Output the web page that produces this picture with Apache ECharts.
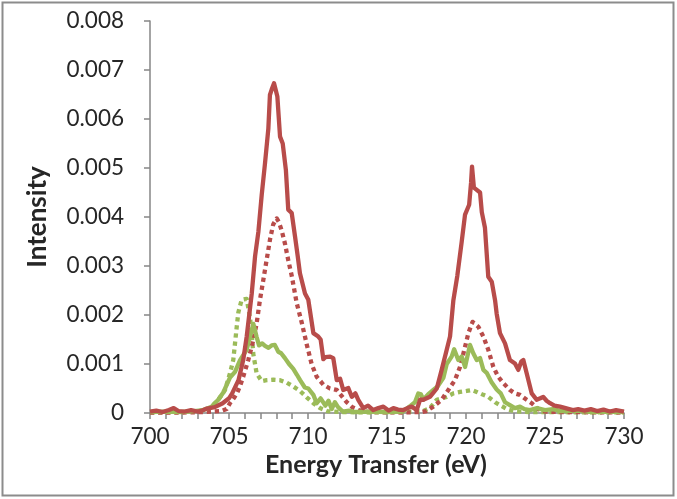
<!DOCTYPE html>
<html>
<head>
<meta charset="utf-8">
<script src="https://cdn.jsdelivr.net/npm/echarts@6/dist/echarts.min.js"></script>
<style>
html,body{margin:0;padding:0;background:#fff;}
#chart{width:677px;height:499px;}
</style>
</head>
<body>
<div id="chart"></div>
<script>
// Energy transfer (eV) and intensity samples for each curve
const redSolidE = [700.0,700.4,700.8,701.2,701.5,701.8,702.2,702.6,703.0,703.3,703.6,704.1,704.6,705.0,705.2,705.6,705.9,706.12,706.44,706.65,706.86,707.07,707.28,707.49,707.59,707.7,707.85,707.95,708.06,708.23,708.4,708.6,708.75,708.97,709.18,709.35,709.49,709.81,710.02,710.34,710.65,710.8,710.97,711.1,711.4,711.6,711.82,712.03,712.23,712.55,712.77,713.0,713.18,713.5,713.8,714.13,714.45,714.77,715.1,715.4,715.7,716.03,716.3,716.56,716.88,717.09,717.3,717.51,717.72,717.9,718.15,718.46,718.78,718.99,719.2,719.45,719.73,719.94,720.2,720.32,720.38,720.5,720.6,720.89,721.0,721.2,721.41,721.63,721.84,721.94,722.15,722.47,722.78,723.1,723.31,723.5,723.63,723.84,724.16,724.47,724.7,724.89,725.1,725.32,725.6,725.95,726.3,726.77,727.1,727.5,727.9,728.3,728.7,729.1,729.5,730.0];
const redSolidI = [0.00003,0.00005,0.00002,0.00006,0.0001,0.00004,0.00003,0.00006,0.00003,0.00005,0.00009,0.00012,0.0002,0.0003,0.0004,0.00067,0.00108,0.00156,0.00244,0.0032,0.0037,0.00445,0.0051,0.0058,0.00649,0.0066,0.00673,0.0066,0.00646,0.00564,0.0055,0.00496,0.00415,0.00408,0.0036,0.0032,0.00285,0.00244,0.00231,0.00163,0.00156,0.0015,0.0011,0.00114,0.00115,0.00112,0.00067,0.0007,0.00047,0.00051,0.00033,0.0004,0.00027,0.0001,0.00015,0.00006,0.0001,0.00013,0.00005,0.0001,0.00007,0.00006,0.0001,0.00013,0.00006,0.00027,0.00027,0.0003,0.00033,0.0004,0.0005,0.00088,0.00129,0.00156,0.0023,0.0028,0.0035,0.00405,0.00425,0.0047,0.00503,0.0046,0.00458,0.0045,0.0041,0.00378,0.00278,0.00268,0.0023,0.00203,0.00163,0.00142,0.00108,0.00101,0.00088,0.00105,0.00108,0.00081,0.0004,0.00027,0.0003,0.00033,0.00025,0.0002,0.00015,0.00013,0.0001,0.00006,0.00008,0.00005,0.00008,0.00004,0.00007,0.00003,0.00006,0.00003];

const redDotE = [700,702,703.5,704.5,704.85,705.06,705.3,705.5,705.7,705.9,706.22,706.54,706.75,706.96,707.17,707.38,707.6,707.8,708.02,708.15,708.33,708.54,708.75,708.97,709.28,709.6,709.92,710.23,710.55,710.97,711.39,711.82,712.1,712.45,712.8,713.2,713.6,714,716,717.2,717.5,717.93,718.46,718.88,719.3,719.62,719.94,720.15,720.42,720.78,721.1,721.41,721.73,722.04,722.36,722.78,723.1,723.42,723.84,724.16,724.58,725,726,730];
const redDotI = [0.00001,0.00001,0.00002,0.00004,0.00008,0.0002,0.0003,0.0004,0.00055,0.00074,0.00108,0.00149,0.00183,0.00231,0.00271,0.00312,0.00355,0.00385,0.00397,0.0039,0.00373,0.00346,0.00312,0.0028,0.00225,0.00185,0.0014,0.001,0.00074,0.00058,0.0005,0.00047,0.00036,0.00022,0.00012,0.00006,0.00003,0.00002,0.00001,0.00002,0.00004,0.00013,0.00027,0.00047,0.00067,0.00094,0.00135,0.00163,0.00186,0.00176,0.00156,0.00129,0.00094,0.00074,0.00061,0.00047,0.0004,0.00037,0.00027,0.0002,0.00008,0.00003,0.00002,0.00001];

const greenSolidE = [700,701,702,702.8,703.37,703.9,704.32,704.64,705.06,705.38,705.7,706.12,706.33,706.54,706.75,706.9,707.1,707.28,707.5,707.7,707.9,708.12,708.3,708.54,708.8,709.07,709.3,709.5,709.8,710.02,710.34,710.55,710.8,711.1,711.3,711.5,711.7,711.9,712.2,712.6,713,714,715,716,716.5,716.77,716.98,717.15,717.3,717.6,717.93,718.2,718.57,718.78,719.09,719.25,719.51,719.73,719.94,720.25,720.46,720.68,720.89,721.1,721.31,721.63,721.94,722.2,722.47,722.78,723.1,723.42,723.7,724.05,724.5,725,725.5,726,727,728,729,730];
const greenSolidI = [0.00002,0.00003,0.00002,0.00004,0.00006,0.00013,0.00027,0.00042,0.00072,0.00084,0.00108,0.00129,0.00156,0.00182,0.00155,0.00138,0.00142,0.00137,0.00133,0.00138,0.00139,0.00125,0.00122,0.00112,0.001,0.0009,0.00078,0.00067,0.00052,0.0005,0.00037,0.0002,0.0003,0.00015,0.00025,0.00008,0.00022,0.00012,0.00003,0.00005,0.00002,0.00003,0.00002,0.00003,0.00015,0.00022,0.0004,0.00038,0.00027,0.00038,0.00047,0.00054,0.00072,0.001,0.00115,0.0013,0.00108,0.00115,0.00094,0.00139,0.00122,0.00108,0.00112,0.00088,0.00082,0.00062,0.00048,0.0004,0.00022,0.00016,0.0001,0.00013,0.00008,0.00006,0.0001,0.00006,0.00008,0.00004,0.00005,0.00002,0.00003,0.00002];

const greenDotE = [700,702,703,703.8,704.32,704.75,705.06,705.27,705.38,705.49,705.59,705.8,706.12,706.33,706.44,706.54,706.75,707.07,707.38,707.8,708.23,708.65,709.07,709.49,709.92,710.34,710.76,711.2,712,714,716,717.3,717.72,718.15,718.78,719.2,719.62,720.04,720.36,720.68,721.1,721.41,721.84,722.15,722.6,723,724,730];
const greenDotI = [0.00001,0.00002,0.00003,0.0001,0.00027,0.00047,0.00081,0.00108,0.00142,0.00176,0.00205,0.00231,0.00233,0.00195,0.0016,0.0012,0.00081,0.00065,0.00067,0.00068,0.00067,0.00062,0.00054,0.00045,0.00032,0.0002,0.0001,0.00004,0.00002,0.00001,0.00002,0.00004,0.0001,0.00027,0.00033,0.0004,0.00043,0.00045,0.00047,0.00043,0.00037,0.00033,0.00022,0.00016,0.00008,0.00004,0.00002,0.00001];

// Axis ticks
const xTicks = [700,705,710,715,720,725,730];
const yTicks = [0,0.001,0.002,0.003,0.004,0.005,0.006,0.007,0.008];
const xTitle = 'Energy Transfer (eV)';
const yTitle = 'Intensity';

const RED = '#B84C4A';
const GREEN = '#9BBB59';
const AXIS = '#868686';
const TEXT = '#262626';
const FONT = 'Lato';

function pairs(E, I) { return E.map((e, i) => [e, I[i]]); }

function lineSeries(name, E, I, color, dotted) {
  return {
    name: name, type: 'line', data: pairs(E, I),
    showSymbol: false, symbol: 'none', smooth: false,
    lineStyle: { color: color, width: 4.3, type: dotted ? [4.3, 3.8] : 'solid', cap: 'butt', join: 'round' },
    emphasis: { disabled: true },
    animation: false
  };
}

const chart = echarts.init(document.getElementById('chart'), null, { renderer: 'canvas' });
chart.setOption({
  backgroundColor: '#ffffff',
  animation: false,
  grid: { left: 150, right: 53, top: 21, bottom: 86, containLabel: false },
  xAxis: {
    type: 'value',
    min: xTicks[0], max: xTicks[xTicks.length - 1], interval: xTicks[1] - xTicks[0],
    name: xTitle, nameLocation: 'middle', nameGap: 37,
    nameTextStyle: { fontFamily: FONT, fontWeight: 'bold', fontSize: 25, color: TEXT, padding: [0, 22, 0, 0] },
    axisLine: { show: true, lineStyle: { color: AXIS, width: 1.5 } },
    axisTick: { show: true, length: 6, lineStyle: { color: AXIS, width: 1.5 } },
    minorTick: { show: true, splitNumber: 5, length: 6, lineStyle: { color: AXIS, width: 1.5 } },
    splitLine: { show: false },
    axisLabel: { fontFamily: FONT, fontSize: 22.5, color: TEXT, margin: 12 }
  },
  yAxis: {
    type: 'value',
    min: yTicks[0], max: yTicks[yTicks.length - 1], interval: yTicks[1] - yTicks[0],
    name: yTitle, nameLocation: 'middle', nameGap: 99,
    nameTextStyle: { fontFamily: FONT, fontWeight: 'bold', fontSize: 26, color: TEXT },
    axisLine: { show: true, lineStyle: { color: AXIS, width: 1.5 } },
    axisTick: { show: true, length: 6, lineStyle: { color: AXIS, width: 1.5 } },
    splitLine: { show: false },
    axisLabel: { fontFamily: FONT, fontSize: 22.5, color: TEXT, margin: 26,
      formatter: function (v) { return v === 0 ? '0' : v.toFixed(3); } }
  },
  series: [
    lineSeries('Green dotted', greenDotE, greenDotI, GREEN, true),
    lineSeries('Red dotted', redDotE, redDotI, RED, true),
    lineSeries('Green solid', greenSolidE, greenSolidI, GREEN, false),
    lineSeries('Red solid', redSolidE, redSolidI, RED, false)
  ],
  graphic: [{
    type: 'rect', silent: true, z: 100,
    shape: { x: 2.5, y: 2.5, width: 671, height: 493 },
    style: { fill: 'none', stroke: '#8C8C8C', lineWidth: 2 }
  }]
});
</script>
</body>
</html>
